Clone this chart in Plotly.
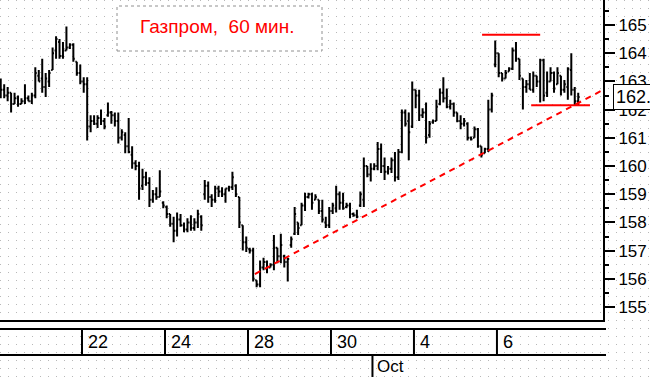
import base64
import plotly.graph_objects as go

# ---------------- data ----------------
opens = [162.8,162.7,162.5,162.6,162.2,162.4,162.2,162.3,162.4,162.3,162.5,163.2,
         163.1,162.8,163.0,163.4,164.1,164.4,163.9,164.1,164.2,164.3,163.7,163.3,
         163.0,162.9,161.4,161.6,161.5,161.7,161.6,161.8,161.9,161.8,161.6,161.0,
         161.1,160.7,160.4,160.1,160.0,159.3,159.6,159.4,158.8,159.0,158.9,158.7,
         158.55,158.3,157.95,157.7,158.1,157.9,157.75,158.0,157.8,158.0,158.2,159.0,
         159.3,158.9,158.8,159.2,159.1,159.0,159.2,159.25,159.3,158.9,157.9,157.3,
         157.05,157.0,155.95,155.8,156.4,156.6,156.4,156.5,157.1,156.8,156.8,156.6,
         157.2,157.6,158.0,157.9,158.6,158.9,159.0,158.8,158.8,158.4,158.0,157.9,
         158.4,158.5,159.0,158.7,158.55,158.6,158.3,158.25,158.6,158.8,160.0,159.7,
         159.9,160.0,160.6,160.0,159.8,159.9,160.2,159.6,160.5,161.9,161.6,161.4,
         162.7,162.5,161.8,161.9,161.1,161.55,161.6,162.2,162.6,162.4,162.1,162.2,
         161.9,161.6,161.5,161.5,161.0,161.0,161.3,160.7,160.45,160.6,162.0,163.6,
         164.0,163.3,163.1,163.35,163.45,164.1,163.8,163.1,162.8,162.9,162.7,163.2,
         163.0,163.75,162.6,163.0,163.3,162.9,163.2,162.7,162.8,163.4,162.7,162.3]
highs = [163.1,162.9,162.8,162.6,162.6,162.5,162.4,162.9,162.5,162.6,163.5,163.4,
         163.8,163.3,163.4,164.2,164.6,164.5,164.4,164.95,164.35,164.35,163.7,163.6,
         163.15,163.15,161.8,161.8,161.8,162.0,161.7,162.25,161.95,161.9,161.9,161.3,
         161.2,161.7,160.7,160.2,160.15,159.9,159.8,159.6,159.15,159.25,159.85,158.75,
         158.6,158.3,158.2,158.35,158.3,158.0,158.15,158.25,158.15,158.45,158.25,159.5,
         159.45,159.0,159.3,159.3,159.25,159.2,159.3,159.8,159.35,158.9,157.9,157.5,
         157.1,157.1,155.95,156.65,156.75,156.65,156.55,157.55,157.1,157.6,156.85,156.75,
         157.5,158.55,158.0,158.7,159.05,159.05,159.05,159.0,158.8,158.8,158.2,158.55,
         158.7,159.3,159.1,159.05,158.7,158.7,158.35,158.45,159.1,160.3,160.0,160.1,
         160.1,160.85,160.8,160.3,160.0,160.3,160.5,160.6,162.0,162.0,161.9,163.0,
         162.7,162.7,162.05,162.25,161.6,161.65,162.35,162.75,163.15,162.75,162.35,162.25,
         161.9,161.8,161.7,161.55,161.05,161.4,161.35,160.7,160.65,162.35,162.6,164.45,
         164.0,163.3,163.4,163.5,164.2,164.4,163.8,163.1,163.05,163.3,163.35,163.2,
         163.8,163.8,163.35,163.5,163.35,163.5,163.2,163.05,163.5,164.0,162.8,162.6]
lows = [162.4,162.4,162.3,161.9,162.2,162.1,162.2,162.2,162.3,162.2,162.4,163.0,
        162.6,162.45,162.8,163.4,163.8,163.8,163.8,164.1,164.15,163.7,163.2,162.9,
        162.6,160.9,161.2,161.45,161.35,161.45,161.3,161.75,161.5,161.4,160.8,160.9,
        160.45,160.45,159.9,159.85,158.8,159.15,159.3,158.55,158.7,158.8,158.9,158.5,
        158.15,157.85,157.3,157.5,157.85,157.65,157.65,157.7,157.7,157.8,157.7,158.8,
        158.7,158.55,158.7,158.9,158.9,158.7,159.1,159.15,158.9,157.8,157.0,156.95,
        156.9,155.9,155.7,155.7,156.3,156.2,156.4,156.3,156.55,156.55,156.4,155.9,
        157.1,157.55,157.55,157.9,158.4,158.85,158.45,158.8,158.3,158.0,157.8,157.8,
        158.3,158.35,158.45,158.45,158.5,158.15,158.2,158.15,158.55,158.55,159.6,159.45,
        159.85,159.85,159.75,159.5,159.7,159.75,159.45,159.5,160.45,161.4,160.2,161.35,
        162.05,161.6,161.7,160.8,161.0,161.5,161.6,162.15,162.25,162.05,162.0,161.75,
        161.55,161.3,161.4,160.9,160.9,161.0,160.65,160.3,160.45,160.5,161.9,163.5,
        163.15,163.0,163.1,163.35,163.4,163.7,163.05,162.0,162.6,162.7,162.6,162.8,
        162.25,162.3,162.45,163.0,162.6,162.9,162.5,162.6,162.35,162.5,162.15,162.15]
closes = [162.7,162.5,162.6,162.2,162.4,162.2,162.3,162.4,162.3,162.5,163.3,163.0,
          162.8,163.1,163.3,164.0,164.5,163.9,164.1,164.2,164.3,163.8,163.3,163.0,
          162.9,161.4,161.6,161.5,161.7,161.6,161.4,161.9,161.8,161.6,161.0,161.2,
          160.7,160.5,160.1,160.0,159.2,159.6,159.4,158.8,159.0,158.9,159.1,158.6,
          158.3,157.95,157.7,158.1,157.9,157.75,158.0,157.8,158.0,158.3,157.9,159.3,
          158.9,158.8,159.2,159.1,159.0,159.2,159.25,159.6,159.0,158.0,157.3,157.1,
          157.0,156.0,155.8,156.4,156.6,156.4,156.5,157.1,156.8,157.2,156.6,156.7,
          157.4,158.3,157.8,158.6,158.9,159.0,158.7,158.9,158.4,158.1,157.9,158.4,
          158.6,159.0,158.7,158.5,158.6,158.3,158.25,158.2,159.0,160.0,159.7,159.9,
          160.0,160.6,160.0,159.8,159.9,160.2,159.6,160.5,161.9,161.5,161.2,162.7,
          162.5,161.8,161.9,161.0,161.5,161.6,162.1,162.6,162.4,162.1,162.2,161.9,
          161.6,161.5,161.6,161.0,160.95,161.3,160.7,160.4,160.6,162.0,162.5,164.0,
          163.3,163.1,163.3,163.45,164.1,163.8,163.2,162.8,162.9,162.7,163.2,163.0,
          163.75,162.5,163.0,163.3,162.75,163.3,162.7,162.9,163.45,162.7,162.3,162.45]

bars_per_day = 12
day_labels = ["22", "24", "28", "30", "4", "6"]
day_label_index = [2, 4, 6, 8, 10, 12]      # trading-day number (Sep 20 = 0)
month_labels = ["Oct"]
month_label_index = [9]                      # Oct 1 = trading day 9
title_text = "Газпром,\u00a0 60 мин."

# analyst drawings (price levels / trend line), in bar-index and price units
resistance = dict(x0=139.2, x1=156.0, y=164.65)
support = dict(x0=153.4, x1=170.4, y=162.15)
trend = dict(x0=73.5, y0=156.17, x1=174.2, y1=162.70)

# ---------------- layout constants (pixels) ----------------
W, H = 650, 377
ML, MR, MT, MB = 0, 47, 0, 57
PW, PH = W - ML - MR, H - MT - MB
AX_FONT = "Liberation Sans, Arial, sans-serif"
ARIAL = "Liberation Sans, Arial, sans-serif"

def py(pix):  # pixel row -> paper y
    return (PH - pix) / PH

def px(pix):  # pixel column -> paper x
    return pix / PW

n = len(closes)
xs = list(range(n))

fig = go.Figure(go.Ohlc(
    x=xs, open=opens, high=highs, low=lows, close=closes,
    increasing=dict(line=dict(color="black", width=2)),
    decreasing=dict(line=dict(color="black", width=2)),
    tickwidth=0.42, hoverinfo="skip",
))

shapes = []
annotations = []

# title box
shapes.append(dict(type="rect", xref="paper", yref="paper",
                   x0=px(117), x1=px(322), y0=py(51), y1=py(6),
                   line=dict(color="#909090", width=1, dash="dot"),
                   fillcolor="white", layer="above"))
annotations.append(dict(xref="paper", yref="paper", x=px(217), y=py(27),
                        text=title_text, showarrow=False,
                        font=dict(family=ARIAL, size=19, color="#ff0000"),
                        xanchor="center", yanchor="middle"))

# red drawings
shapes.append(dict(type="line", xref="x", yref="y",
                   x0=resistance["x0"], x1=resistance["x1"],
                   y0=resistance["y"], y1=resistance["y"],
                   line=dict(color="#ff0000", width=2)))
shapes.append(dict(type="line", xref="x", yref="y",
                   x0=support["x0"], x1=support["x1"],
                   y0=support["y"], y1=support["y"],
                   line=dict(color="#ff0000", width=2)))
shapes.append(dict(type="line", xref="x", yref="y",
                   x0=trend["x0"], y0=trend["y0"], x1=trend["x1"], y1=trend["y1"],
                   line=dict(color="#ff0000", width=2, dash="6px,5px")))

# date band
band_right = px(606)
for yy in (329, 355):
    shapes.append(dict(type="line", xref="paper", yref="paper",
                       x0=0, x1=band_right, y0=py(yy), y1=py(yy),
                       line=dict(color="black", width=2)))
for lab, d in zip(day_labels, day_label_index):
    xi = d * bars_per_day - 0.5
    shapes.append(dict(type="line", xref="x", yref="paper",
                       x0=xi, x1=xi, y0=py(329), y1=py(355),
                       line=dict(color="black", width=2)))
    annotations.append(dict(xref="x", yref="paper", x=xi, y=py(342),
                            text=lab, showarrow=False, xanchor="left",
                            yanchor="middle", xshift=4,
                            font=dict(family=AX_FONT, size=18, color="black")))
for lab, d in zip(month_labels, month_label_index):
    xi = d * bars_per_day - 0.5
    shapes.append(dict(type="line", xref="x", yref="paper",
                       x0=xi, x1=xi, y0=py(355), y1=py(380),
                       line=dict(color="black", width=2)))
    annotations.append(dict(xref="x", yref="paper", x=xi, y=py(366),
                            text=lab, showarrow=False, xanchor="left",
                            yanchor="middle", xshift=3,
                            font=dict(family=AX_FONT, size=17, color="black")))

# last price box (cut by the right edge, as in the original)
annotations.append(dict(xref="paper", yref="y", x=px(613), y=closes[-1],
                        text=f"{closes[-1]:.2f}", showarrow=False,
                        xanchor="left", yanchor="middle",
                        bgcolor="white", bordercolor="black", borderwidth=1,
                        borderpad=2,
                        font=dict(family=AX_FONT, size=18, color="black")))

# dotted background pattern
svg = (f"<svg xmlns='http://www.w3.org/2000/svg' width='{W}' height='{H}'>"
       "<defs><pattern id='p' width='8' height='8' patternUnits='userSpaceOnUse'>"
       "<rect x='0' y='0' width='1' height='1' fill='#b8b8b8'/></pattern></defs>"
       f"<rect width='{W}' height='{H}' fill='url(#p)'/></svg>")
src = "data:image/svg+xml;base64," + base64.b64encode(svg.encode()).decode()

# axis ranges from pixel geometry
x_lo = (0 - 0.729) / 3.458
x_hi = (PW - 0.729) / 3.458
y_top = 165 + 25 / 28.2
y_bot = 165 - (PH - 25) / 28.2

fig.update_layout(
    width=W, height=H,
    margin=dict(l=ML, r=MR, t=MT, b=MB, pad=0),
    paper_bgcolor="white", plot_bgcolor="rgba(0,0,0,0)",
    showlegend=False,
    shapes=shapes, annotations=annotations,
    images=[dict(source=src, xref="paper", yref="paper", x=0, y=1,
                 sizex=W / PW, sizey=H / PH, xanchor="left", yanchor="top",
                 sizing="stretch", layer="below")],
    xaxis=dict(range=[x_lo, x_hi], showgrid=False, zeroline=False,
               showticklabels=False, ticks="", showline=True,
               linecolor="black", linewidth=2, rangeslider=dict(visible=False),
               fixedrange=True),
    yaxis=dict(range=[y_bot, y_top], side="right", dtick=1, tick0=155,
               ticks="outside", ticklen=10, tickwidth=2, tickcolor="black",
               showline=True, linecolor="black", linewidth=2,
               showgrid=False, zeroline=False,
               tickfont=dict(family=AX_FONT, size=17, color="black"),
               minor=dict(dtick=0.5, ticks="outside", ticklen=4, tickwidth=2,
                          tickcolor="black", showgrid=False),
               fixedrange=True),
)

fig.write_html("out.html")
